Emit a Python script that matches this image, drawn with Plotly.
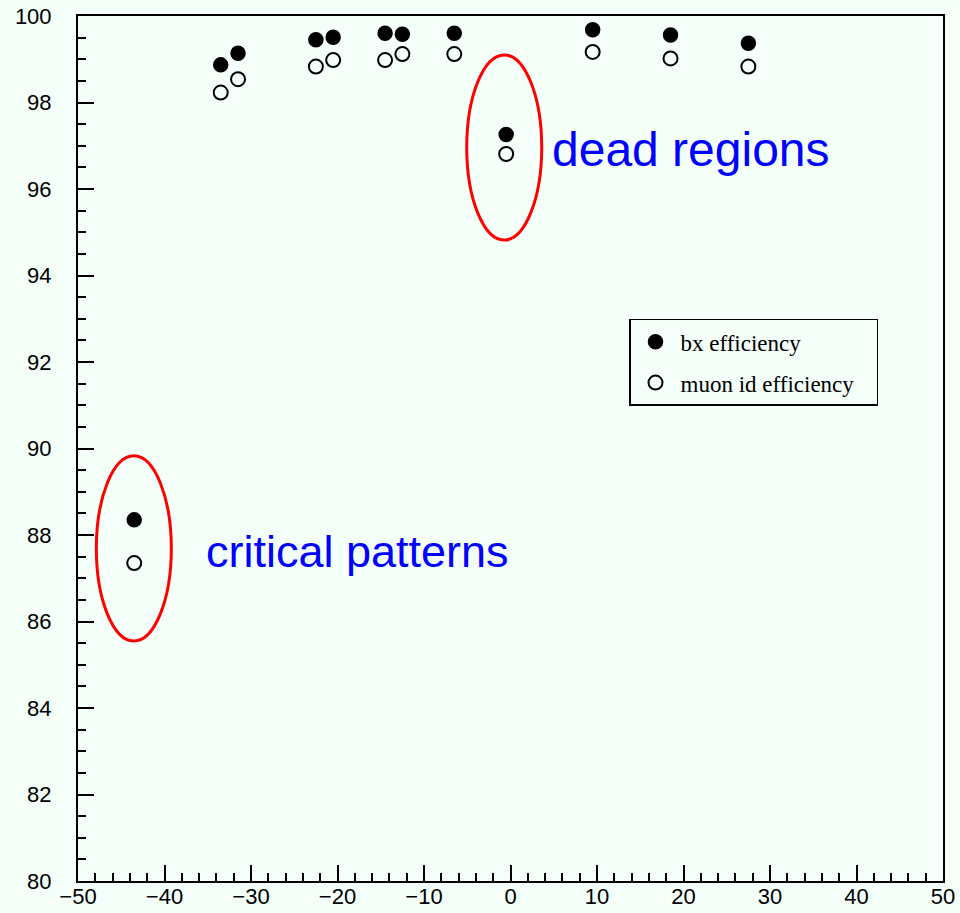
import plotly.graph_objects as go

# ---- data ----
eta = [-43.5, -33.5, -31.5, -22.5, -20.5, -14.5, -12.5, -6.5, -0.5, 9.5, 18.5, 27.5]
bx_eff = [88.35, 98.87, 99.14, 99.45, 99.51, 99.60, 99.58, 99.60, 97.26, 99.68, 99.56, 99.37]
muon_eff = [87.35, 98.23, 98.54, 98.83, 98.98, 98.98, 99.12, 99.12, 96.81, 99.17, 99.02, 98.83]

x_ticks = [-50, -40, -30, -20, -10, 0, 10, 20, 30, 40, 50]
y_ticks = [80, 82, 84, 86, 88, 90, 92, 94, 96, 98, 100]

BG = "#f4fff9"

fig = go.Figure()
fig.add_trace(go.Scatter(
    x=eta, y=bx_eff, mode="markers", name="bx efficiency", legendgroup="a",
    marker=dict(symbol="circle", size=14, color="black", line=dict(color="black", width=1.5)),
))
fig.add_trace(go.Scatter(
    x=eta, y=muon_eff, mode="markers", name="muon id efficiency   ", legendgroup="b",
    marker=dict(symbol="circle", size=14, color=BG, line=dict(color="black", width=2)),
))

# annotation ellipses
ellipses = [(-5.06, 94.82, 3.61, 99.10), (-47.88, 85.55, -39.21, 89.83)]
for x0, y0, x1, y1 in ellipses:
    fig.add_shape(type="circle", xref="x", yref="y", x0=x0, y0=y0, x1=x1, y1=y1,
                  line=dict(color="red", width=3))

fig.add_annotation(x=4.55, y=96.92, xref="x", yref="y", text="dead regions",
                   showarrow=False, xanchor="left", yanchor="middle",
                   font=dict(family="Liberation Sans", size=48, color="blue"))
fig.add_annotation(x=-35.4, y=87.62, xref="x", yref="y", text="critical patterns",
                   showarrow=False, xanchor="left", yanchor="middle",
                   font=dict(family="Liberation Sans", size=45, color="blue"))

axis_common = dict(
    showline=True, linecolor="black", linewidth=2, mirror=True,
    ticks="inside", ticklen=16, tickwidth=2, tickcolor="black",
    showgrid=False, zeroline=False, automargin=False,
    tickfont=dict(family="Liberation Sans", size=22, color="black"),
)

fig.update_xaxes(range=[-50, 50], tickvals=x_ticks, ticklabelstandoff=-5,
                 minor=dict(dtick=2, ticks="inside", ticklen=8, tickwidth=2, tickcolor="black"),
                 **axis_common)
fig.update_yaxes(range=[80, 100], tickvals=y_ticks, ticklabelstandoff=20,
                 minor=dict(dtick=0.5, ticks="inside", ticklen=8, tickwidth=2, tickcolor="black"),
                 **axis_common)

fig.update_layout(
    width=960, height=913,
    margin=dict(l=78, r=17, t=16, b=32),
    paper_bgcolor=BG, plot_bgcolor=BG,
    showlegend=True,
    legend=dict(
        x=0.637, y=0.650, xanchor="left", yanchor="top",
        bgcolor=BG, bordercolor="black", borderwidth=1.5,
        font=dict(family="Liberation Serif", size=23, color="black"),
        tracegroupgap=8, traceorder="grouped", itemwidth=40,
    ),
)

fig.write_html("out.html")
